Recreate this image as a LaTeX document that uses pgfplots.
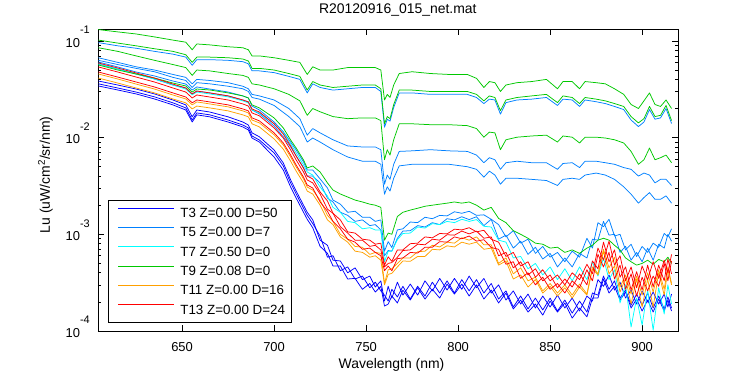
\documentclass[border=0pt]{standalone}
\usepackage{fontspec}
\setmainfont{Liberation Sans}
\usepackage{pgfplots}
\pgfplotsset{compat=1.18}
\usepackage{pgfplotstable}
\definecolor{cT3}{RGB}{0,0,255}
\definecolor{cT5}{RGB}{0,128,255}
\definecolor{cT7}{RGB}{0,255,255}
\definecolor{cT9}{RGB}{0,200,0}
\definecolor{cT11}{RGB}{255,160,0}
\definecolor{cT13}{RGB}{255,0,0}

\pgfplotstableread{
x G1 G2 B1 G3 B2 B3
604.5 0.131 0.102 0.096 0.085 0.067 0.063
615 0.124 0.095 0.089 0.078 0.060 0.057
625 0.118 0.089 0.084 0.070 0.054 0.052
635 0.110 0.083 0.078 0.063 0.050 0.048
645 0.102 0.078 0.073 0.057 0.045 0.042
652 0.097 0.072 0.068 0.053 0.042 0.039
655.5 0.081 0.060 0.056 0.044 0.036 0.033
658 0.093 0.068 0.064 0.050 0.040 0.037
665 0.091 0.068 0.064 0.049 0.039 0.036
675 0.087 0.067 0.063 0.046 0.037 0.034
683 0.085 0.065 0.061 0.044 0.034 0.032
686 0.081 0.062 0.058 0.042 0.032 0.030
688 0.070 0.052 0.049 0.036 0.028 0.026
692 0.070 0.052 0.049 0.035 0.027 0.025
700 0.067 0.050 0.047 0.032 0.0245 0.0215
708 0.063 0.046 0.043 0.028 0.020 0.0165
714 0.060 0.043 0.040 0.024 0.0157 0.013
718 0.045 0.031 0.029 0.017 0.0106 0.0090
721 0.054 0.038 0.036 0.020 0.0124 0.0099
725 0.050 0.035 0.033 0.0185 0.0112 0.0090
732 0.050 0.033 0.031 0.0165 0.0095 0.0075
740 0.053 0.034 0.032 0.0157 0.0082 0.0063
748 0.053 0.035 0.033 0.016 0.0080 0.0057
755 0.053 0.035 0.033 0.016 0.0080 0.0057
758 0.050 0.032 0.030 0.015 0.0075 0.0053
760 0.0245 0.0139 0.0128 0.0059 0.0033 0.0026
761.5 0.028 0.0165 0.0155 0.0075 0.0041 0.0031
763 0.026 0.0157 0.0148 0.0066 0.0037 0.0028
765 0.035 0.022 0.0205 0.0095 0.0053 0.0038
768 0.046 0.031 0.029 0.0139 0.0072 0.0051
775 0.048 0.031 0.029 0.0139 0.0073 0.0053
785 0.046 0.030 0.028 0.0136 0.0075 0.0053
795 0.045 0.030 0.028 0.0136 0.0073 0.0053
805 0.045 0.030 0.028 0.0133 0.0072 0.0050
810 0.041 0.028 0.026 0.0124 0.0066 0.0047
814 0.033 0.024 0.0225 0.0101 0.0055 0.0039
817 0.038 0.027 0.025 0.0114 0.0062 0.0045
820 0.037 0.026 0.0245 0.0112 0.0059 0.0041
823 0.030 0.019 0.0175 0.0075 0.0047 0.0033
826 0.035 0.0245 0.023 0.0095 0.0055 0.0038
832 0.037 0.026 0.0245 0.0101 0.0057 0.0038
840 0.038 0.027 0.025 0.0104 0.0055 0.0037
848 0.040 0.028 0.026 0.0106 0.0055 0.0036
854 0.032 0.023 0.0215 0.0090 0.0047 0.0032
857 0.038 0.027 0.025 0.0104 0.0054 0.0037
862 0.038 0.026 0.0245 0.0101 0.0055 0.0038
866 0.032 0.0225 0.021 0.0088 0.0049 0.0037
869 0.038 0.026 0.0245 0.0101 0.0057 0.0041
875 0.037 0.025 0.0235 0.0101 0.0057 0.0043
880 0.036 0.024 0.0225 0.0099 0.0055 0.0041
885 0.032 0.0225 0.021 0.0095 0.0053 0.0037
890 0.028 0.021 0.0195 0.0088 0.0049 0.0031
894 0.022 0.0165 0.0152 0.0072 0.0047 0.0026
898 0.020 0.0142 0.013 0.0053 0.0040 0.0021
901 0.024 0.0157 0.0145 0.0059 0.0043 0.0024
904 0.029 0.021 0.0195 0.0078 0.0041 0.0027
907 0.022 0.0165 0.0155 0.0059 0.0034 0.0023
910 0.021 0.017 0.016 0.0062 0.0037 0.0023
913 0.0245 0.0215 0.020 0.0066 0.0037 0.0025
916 0.020 0.015 0.014 0.0055 0.0032 0.0021
}\tabS

\pgfplotstableread{
x G4 B4 B5 C1 R1 R2 R3 O1 O2 Ta Tb Tc
604.5 5.64e-2 6.05e-2 5.77e-2 5.77e-2 5.91e-2 5.38e-2 4.77e-2 4.55e-2 4.13e-2 3.85e-2 3.60e-2 3.42e-2
615 5.00e-2 5.38e-2 5.12e-2 5.12e-2 5.25e-2 4.77e-2 4.23e-2 4.04e-2 3.67e-2 3.50e-2 3.26e-2 3.11e-2
625 4.55e-2 4.77e-2 4.55e-2 4.55e-2 4.66e-2 4.23e-2 3.76e-2 3.58e-2 3.26e-2 3.18e-2 2.96e-2 2.83e-2
635 4.13e-2 4.34e-2 4.04e-2 4.04e-2 4.13e-2 3.76e-2 3.34e-2 3.18e-2 2.90e-2 2.83e-2 2.64e-2 2.51e-2
645 3.67e-2 3.85e-2 3.50e-2 3.50e-2 3.58e-2 3.26e-2 2.90e-2 2.76e-2 2.51e-2 2.45e-2 2.29e-2 2.18e-2
652 3.42e-2 3.58e-2 3.26e-2 3.18e-2 3.26e-2 2.96e-2 2.63e-2 2.51e-2 2.29e-2 2.18e-2 2.03e-2 1.93e-2
655.5 2.96e-2 3.11e-2 2.83e-2 2.77e-2 2.83e-2 2.57e-2 2.29e-2 2.18e-2 1.98e-2 1.64e-2 1.52e-2 1.45e-2
658 3.18e-2 3.34e-2 3.03e-2 2.96e-2 3.03e-2 2.76e-2 2.45e-2 2.34e-2 2.12e-2 1.93e-2 1.80e-2 1.72e-2
665 3.11e-2 3.18e-2 2.90e-2 2.83e-2 2.90e-2 2.63e-2 2.34e-2 2.23e-2 2.03e-2 1.84e-2 1.72e-2 1.64e-2
675 2.90e-2 2.96e-2 2.70e-2 2.64e-2 2.70e-2 2.45e-2 2.18e-2 2.08e-2 1.89e-2 1.64e-2 1.52e-2 1.45e-2
683 2.70e-2 2.70e-2 2.45e-2 2.40e-2 2.45e-2 2.23e-2 1.98e-2 1.89e-2 1.72e-2 1.45e-2 1.35e-2 1.29e-2
686 2.57e-2 2.57e-2 2.34e-2 2.29e-2 2.34e-2 2.12e-2 1.89e-2 1.80e-2 1.64e-2 1.35e-2 1.26e-2 1.20e-2
688 2.18e-2 2.12e-2 1.93e-2 1.93e-2 1.98e-2 1.80e-2 1.60e-2 1.52e-2 1.39e-2 1.12e-2 1.04e-2 9.9e-3
692 2.03e-2 1.93e-2 1.76e-2 1.80e-2 1.84e-2 1.68e-2 1.49e-2 1.42e-2 1.29e-2 1.02e-2 9.45e-3 9.0e-3
700 1.60e-2 1.45e-2 1.32e-2 1.39e-2 1.39e-2 1.26e-2 1.12e-2 1.07e-2 9.7e-3 7.45e-3 6.95e-3 6.3e-3
705 1.26e-2 1.15e-2 1.02e-2 1.12e-2 1.09e-2 9.9e-3 8.8e-3 8.4e-3 7.6e-3 5.47e-3 5.09e-3 4.62e-3
709 9.45e-3 9.0e-3 8.0e-3 8.6e-3 8.2e-3 7.45e-3 6.6e-3 6.3e-3 5.7e-3 3.65e-3 3.40e-3 3.08e-3
712 7.8e-3 7.45e-3 6.45e-3 6.95e-3 6.45e-3 5.87e-3 5.2e-3 4.97e-3 4.5e-3 2.80e-3 2.61e-3 2.37e-3
716 5.87e-3 5.6e-3 4.85e-3 5.2e-3 4.85e-3 4.41e-3 3.9e-3 3.74e-3 3.4e-3 2.0e-3 1.86e-3 1.69e-3
718 4.85e-3 4.62e-3 4.0e-3 4.41e-3 4.0e-3 3.65e-3 3.24e-3 3.08e-3 2.8e-3 1.69e-3 1.57e-3 1.43e-3
721 5.09e-3 4.62e-3 4.0e-3 4.1e-3 3.74e-3 3.40e-3 3.01e-3 2.87e-3 2.61e-3 1.41e-3 1.29e-3 1.17e-3
725 4.41e-3 3.74e-3 3.4e-3 3.08e-3 2.74e-3 2.61e-3 2.16e-3 2.26e-3 2.0e-3 8.7e-4 9.6e-4 7.5e-4
729 3.40e-3 3.01e-3 2.37e-3 2.49e-3 2.21e-3 1.82e-3 1.73e-3 1.57e-3 1.41e-3 7.7e-4 5.8e-4 6.35e-4
732 2.87e-3 2.26e-3 2.16e-3 1.90e-3 1.65e-3 1.65e-3 1.36e-3 1.36e-3 1.26e-3 5.4e-4 6.0e-4 4.7e-4
736 2.61e-3 2.05e-3 1.69e-3 1.69e-3 1.41e-3 1.20e-3 1.14e-3 1.0e-3 9.4e-4 5.3e-4 4.2e-4 4.7e-4
740 2.43e-3 1.69e-3 1.57e-3 1.36e-3 1.06e-3 1.03e-3 8.9e-4 8.9e-4 8.3e-4 4.0e-4 4.6e-4 3.45e-4
744 2.26e-3 1.73e-3 1.36e-3 1.32e-3 1.03e-3 8.7e-4 8.3e-4 7.5e-4 6.7e-4 4.5e-4 3.45e-4 3.5e-4
748 2.16e-3 1.50e-3 1.41e-3 1.14e-3 8.9e-4 8.7e-4 7.0e-4 7.35e-4 6.5e-4 3.4e-4 3.7e-4 2.7e-4
752 2.05e-3 1.50e-3 1.23e-3 1.17e-3 8.7e-4 7.5e-4 7.2e-4 6.2e-4 5.8e-4 3.7e-4 2.8e-4 3.1e-4
755 2.00e-3 1.36e-3 1.26e-3 1.11e-3 7.9e-4 7.7e-4 6.5e-4 6.5e-4 6.0e-4 2.85e-4 3.2e-4 2.53e-4
758 1.90e-3 1.41e-3 1.11e-3 1.11e-3 8.1e-4 6.9e-4 6.0e-4 6.35e-4 5.4e-4 3.3e-4 2.6e-4 2.9e-4
760 8.7e-4 6.7e-4 6.0e-4 5.2e-4 4.8e-4 4.6e-4 4.2e-4 3.1e-4 3.0e-4 2.04e-4 2.35e-4 1.81e-4
762 1.03e-3 8.4e-4 6.8e-4 6.7e-4 5.85e-4 5.0e-4 4.7e-4 4.3e-4 3.85e-4 2.9e-4 2.04e-4 1.90e-4
764 1.0e-3 7.3e-4 6.7e-4 6.7e-4 5.25e-4 5.1e-4 4.2e-4 4.4e-4 3.95e-4 2.19e-4 2.7e-4 2.3e-4
767 1.53e-3 1.11e-3 9.1e-4 8.8e-4 6.9e-4 5.8e-4 5.6e-4 5.0e-4 4.6e-4 3.2e-4 2.25e-4 1.95e-4
770 1.69e-3 1.14e-3 1.08e-3 1.02e-3 6.9e-4 6.8e-4 5.7e-4 5.7e-4 5.3e-4 2.35e-4 2.9e-4 2.65e-4
774 1.78e-3 1.34e-3 1.09e-3 1.03e-3 8.0e-4 6.9e-4 6.5e-4 5.7e-4 5.25e-4 3.06e-4 2.14e-4 2.09e-4
778 1.86e-3 1.32e-3 1.23e-3 1.19e-3 8.1e-4 7.9e-4 6.4e-4 6.6e-4 5.9e-4 2.35e-4 2.9e-4 2.8e-4
782 1.95e-3 1.50e-3 1.19e-3 1.16e-3 9.4e-4 7.8e-4 7.35e-4 6.7e-4 5.9e-4 3.3e-4 2.3e-4 2.14e-4
786 2.0e-3 1.45e-3 1.32e-3 1.29e-3 9.2e-4 8.9e-4 7.35e-4 7.7e-4 7.0e-4 2.6e-4 3.2e-4 2.7e-4
790 2.05e-3 1.57e-3 1.26e-3 1.26e-3 1.02e-3 8.7e-4 8.4e-4 7.4e-4 6.9e-4 3.5e-4 2.47e-4 2.19e-4
794 2.1e-3 1.55e-3 1.45e-3 1.36e-3 1.01e-3 9.9e-4 8.3e-4 8.3e-4 7.6e-4 2.65e-4 3.3e-4 3.06e-4
798 2.16e-3 1.71e-3 1.41e-3 1.32e-3 1.13e-3 9.8e-4 9.4e-4 8.1e-4 7.4e-4 3.5e-4 2.47e-4 2.41e-4
802 2.1e-3 1.65e-3 1.52e-3 1.43e-3 1.11e-3 1.08e-3 9.0e-4 9.2e-4 8.3e-4 2.7e-4 3.4e-4 3.06e-4
806 2.16e-3 1.73e-3 1.42e-3 1.36e-3 1.17e-3 1.01e-3 9.6e-4 8.7e-4 7.9e-4 3.7e-4 2.6e-4 2.3e-4
810 2.0e-3 1.57e-3 1.52e-3 1.42e-3 1.06e-3 1.08e-3 8.5e-4 9.4e-4 8.3e-4 2.8e-4 3.4e-4 3.0e-4
814 1.78e-3 1.59e-3 1.23e-3 1.21e-3 1.10e-3 9.1e-4 8.8e-4 7.8e-4 7.0e-4 3.5e-4 2.47e-4 2.14e-4
818 1.90e-3 1.43e-3 1.43e-3 1.19e-3 8.9e-4 9.4e-4 7.3e-4 7.8e-4 7.2e-4 2.47e-4 3.1e-4 2.65e-4
822 1.46e-3 1.26e-3 8.9e-4 8.7e-4 8.3e-4 6.0e-4 7.0e-4 5.0e-4 4.8e-4 3.0e-4 2.14e-4 1.95e-4
826 1.32e-3 9.4e-4 9.8e-4 8.3e-4 5.9e-4 6.5e-4 4.9e-4 5.7e-4 5.3e-4 2.09e-4 2.6e-4 2.47e-4
830 1.09e-3 1.09e-3 7.2e-4 5.7e-4 6.5e-4 4.5e-4 5.2e-4 3.9e-4 3.45e-4 2.6e-4 1.77e-4 1.69e-4
834 1.0e-3 8.1e-4 8.5e-4 5.9e-4 4.7e-4 5.2e-4 3.5e-4 4.5e-4 3.8e-4 1.90e-4 2.3e-4 2.09e-4
838 9.1e-4 8.9e-4 6.2e-4 4.4e-4 5.2e-4 3.8e-4 4.0e-4 3.3e-4 2.85e-4 2.41e-4 1.69e-4 1.57e-4
842 8.1e-4 6.35e-4 7.35e-4 5.0e-4 3.6e-4 4.4e-4 3.0e-4 3.6e-4 3.4e-4 1.73e-4 2.19e-4 1.90e-4
846 7.9e-4 7.5e-4 5.55e-4 3.8e-4 4.3e-4 3.3e-4 3.6e-4 2.6e-4 2.47e-4 2.3e-4 1.65e-4 1.46e-4
850 7.2e-4 5.8e-4 6.35e-4 4.6e-4 3.3e-4 3.8e-4 2.7e-4 3.1e-4 2.9e-4 1.77e-4 2.19e-4 2.04e-4
854 7.35e-4 6.5e-4 4.6e-4 3.4e-4 3.8e-4 2.8e-4 3.1e-4 2.47e-4 2.3e-4 2.35e-4 1.61e-4 1.57e-4
858 6.5e-4 5.2e-4 5.7e-4 4.4e-4 3.0e-4 3.45e-4 2.47e-4 3.0e-4 2.8e-4 1.73e-4 2.09e-4 1.95e-4
862 6.9e-4 6.7e-4 4.6e-4 3.3e-4 4.0e-4 2.85e-4 3.3e-4 2.35e-4 2.19e-4 2.19e-4 1.53e-4 1.36e-4
866 6.35e-4 5.8e-4 6.35e-4 4.6e-4 3.4e-4 3.9e-4 2.8e-4 3.06e-4 2.85e-4 1.61e-4 2.04e-4 1.73e-4
870 7.2e-4 9.1e-4 5.7e-4 3.4e-4 4.9e-4 3.0e-4 4.3e-4 2.41e-4 2.35e-4 2.3e-4 1.57e-4 1.40e-4
873 7.7e-4 7.2e-4 8.9e-4 5.2e-4 3.9e-4 5.3e-4 3.3e-4 4.6e-4 4.4e-4 2.04e-4 2.47e-4 2.19e-4
876 8.7e-4 1.32e-3 8.7e-4 3.7e-4 7.2e-4 4.4e-4 6.2e-4 3.9e-4 3.8e-4 3.4e-4 2.35e-4 2.19e-4
879 9.1e-4 1.20e-3 1.36e-3 5.7e-4 5.4e-4 8.3e-4 4.6e-4 7.0e-4 6.7e-4 2.9e-4 3.7e-4 3.45e-4
882 8.7e-4 1.43e-3 9.8e-4 3.4e-4 8.5e-4 5.2e-4 6.5e-4 4.5e-4 3.9e-4 3.8e-4 2.7e-4 2.47e-4
885 7.7e-4 9.6e-4 1.0e-3 4.3e-4 4.8e-4 6.9e-4 3.45e-4 5.8e-4 4.7e-4 2.65e-4 3.3e-4 2.9e-4
888 6.9e-4 1.0e-3 6.5e-4 1.95e-4 6.0e-4 3.6e-4 4.8e-4 2.85e-4 2.53e-4 3.2e-4 2.19e-4 2.09e-4
891 5.7e-4 6.9e-4 7.5e-4 3.0e-4 3.3e-4 4.6e-4 2.7e-4 3.8e-4 3.5e-4 2.19e-4 2.65e-4 2.53e-4
894 5.2e-4 7.9e-4 5.4e-4 1.10e-4 4.6e-4 2.65e-4 3.9e-4 2.41e-4 1.90e-4 2.65e-4 1.85e-4 1.73e-4
897 4.8e-4 5.9e-4 6.5e-4 2.19e-4 2.8e-4 4.1e-4 2.3e-4 3.7e-4 3.45e-4 1.90e-4 2.41e-4 2.14e-4
900 5.0e-4 7.5e-4 5.2e-4 1.15e-4 4.7e-4 2.65e-4 3.6e-4 2.35e-4 1.77e-4 2.6e-4 1.85e-4 1.61e-4
903 5.4e-4 6.5e-4 7.2e-4 2.65e-4 3.4e-4 4.8e-4 2.6e-4 4.0e-4 3.45e-4 1.99e-4 2.47e-4 2.09e-4
906 4.9e-4 8.1e-4 5.4e-4 1.02e-4 5.2e-4 2.85e-4 3.7e-4 2.53e-4 1.77e-4 2.53e-4 1.73e-4 1.57e-4
909 5.5e-4 7.35e-4 7.9e-4 2.8e-4 3.5e-4 4.8e-4 2.9e-4 4.3e-4 4.0e-4 1.90e-4 2.3e-4 2.14e-4
912 5.2e-4 1.02e-3 7.2e-4 1.5e-4 5.4e-4 3.3e-4 5.0e-4 2.7e-4 2.35e-4 2.41e-4 1.69e-4 1.61e-4
914 5.8e-4 9.4e-4 1.0e-3 3.0e-4 4.0e-4 5.55e-4 3.3e-4 4.6e-4 4.3e-4 1.77e-4 2.25e-4 2.09e-4
916 5.0e-4 1.14e-3 8.5e-4 1.9e-4 6.2e-4 3.9e-4 5.3e-4 3.1e-4 3.0e-4 2.41e-4 1.73e-4 1.61e-4
}\tabN

\begin{document}
\begin{tikzpicture}
\path[use as bounding box] (-98bp,-44bp) rectangle (652bp,331bp);
\begin{axis}[
  at={(0,0)}, anchor=south west, scale only axis, width=580bp, height=302bp,
  xmin=604.3, xmax=919.5, ymode=log, ymin=1e-4, ymax=0.1328,
  axis line style={black, line width=0.8bp},
  tick style={black, line width=0.7bp},
  tick align=inside, xtick pos=both, ytick pos=both,
  xticklabel pos=lower, yticklabel pos=left,
  major tick length=6bp, minor tick length=3bp,
  xtick={650,700,750,800,850,900},
  xticklabels={650,700,750,800,850,900},
  ytick={1e-4,1e-3,1e-2,1e-1},
  yticklabels={10\raisebox{13.5bp}{\fontsize{11}{11}\selectfont -4},10\raisebox{13.5bp}{\fontsize{11}{11}\selectfont -3},10\raisebox{13.5bp}{\fontsize{11}{11}\selectfont -2},10\raisebox{13.5bp}{\fontsize{11}{11}\selectfont -1}},
  minor ytick={2e-4,3e-4,4e-4,5e-4,6e-4,7e-4,8e-4,9e-4,2e-3,3e-3,4e-3,5e-3,6e-3,7e-3,8e-3,9e-3,2e-2,3e-2,4e-2,5e-2,6e-2,7e-2,8e-2,9e-2},
  tick label style={font=\fontsize{13}{15}\selectfont},
  xticklabel style={anchor=base, inner sep=0pt, yshift=-20.5bp},
  yticklabel style={anchor=base east, inner sep=0pt, xshift=-8bp, yshift=-6.3bp},
  title={R20120916\_015\_net.mat},
  title style={font=\fontsize{14}{16}\selectfont, at={(axis description cs:0.517,1)}, anchor=base, yshift=9.5bp, inner sep=0pt},
  xlabel={Wavelength (nm)},
  xlabel style={font=\fontsize{14}{16}\selectfont, at={(axis description cs:0.506,0)}, anchor=base, yshift=-37.5bp, inner sep=0pt},
  ylabel={Lu (uW/cm\textsuperscript{2}/sr/nm)},
  ylabel style={font=\fontsize{14}{16}\selectfont, at={(axis description cs:-0.0828,0.517)}, anchor=base, inner sep=0pt},
  legend style={at={(axis description cs:0.01724,0.0288)}, anchor=south west, draw=black, line width=0.8bp, fill=white, inner xsep=5bp, inner ysep=2.9bp, row sep=0bp, column sep=0bp, font=\fontsize{13.4}{16}\selectfont, nodes={inner xsep=1bp, inner ysep=0bp, text height=14.3bp, text depth=5bp}},
  legend cell align=left,
  legend image code/.code={\path[draw=none] (0bp,4.7bp) -- (66bp,4.7bp); \draw[#1, line width=0.9bp] (5bp,4.7bp) -- (61bp,4.7bp);},
  every axis plot/.append style={line width=0.75bp, line join=round},
]
\addplot[cT3] table[x=x,y=Ta]{\tabN}; \addlegendentry{T3 Z=0.00 D=50}
\addplot[cT3, forget plot] table[x=x,y=Tb]{\tabN};
\addplot[cT3, forget plot] table[x=x,y=Tc]{\tabN};
\addplot[cT5] table[x=x,y=B1]{\tabS}; \addlegendentry{T5 Z=0.00 D=7}
\addplot[cT5, forget plot] table[x=x,y=B2]{\tabS};
\addplot[cT5, forget plot] table[x=x,y=B3]{\tabS};
\addplot[cT5, forget plot] table[x=x,y=B4]{\tabN};
\addplot[cT5, forget plot] table[x=x,y=B5]{\tabN};
\addplot[cT7] table[x=x,y=C1]{\tabN}; \addlegendentry{T7 Z=0.50 D=0}
\addplot[cT9] table[x=x,y=G1]{\tabS}; \addlegendentry{T9 Z=0.08 D=0}
\addplot[cT9, forget plot] table[x=x,y=G2]{\tabS};
\addplot[cT9, forget plot] table[x=x,y=G3]{\tabS};
\addplot[cT9, forget plot] table[x=x,y=G4]{\tabN};
\addplot[cT11] table[x=x,y=O1]{\tabN}; \addlegendentry{T11 Z=0.00 D=16}
\addplot[cT11, forget plot] table[x=x,y=O2]{\tabN};
\addplot[cT13] table[x=x,y=R1]{\tabN}; \addlegendentry{T13 Z=0.00 D=24}
\addplot[cT13, forget plot] table[x=x,y=R2]{\tabN};
\addplot[cT13, forget plot] table[x=x,y=R3]{\tabN};
\end{axis}
\end{tikzpicture}
\end{document}
